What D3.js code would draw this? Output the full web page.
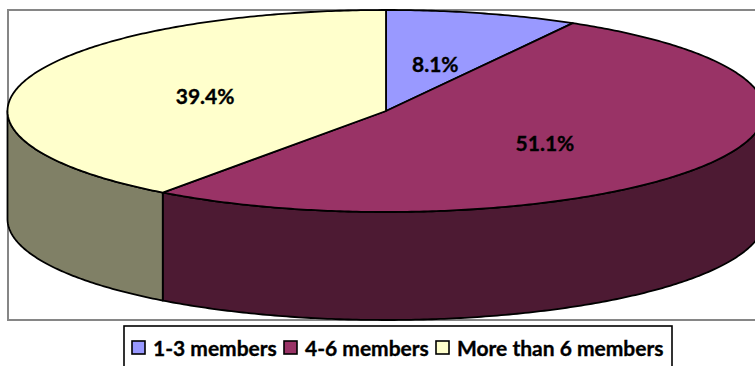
<!DOCTYPE html>
<html><head><meta charset="utf-8">
<script src="https://cdn.jsdelivr.net/npm/d3@7"></script>
<style>html,body{margin:0;padding:0;background:#fff;overflow:hidden}svg{display:block}</style>
</head><body><svg id="c" width="755" height="366"></svg>
<script>
const categories = ["1-3 members", "4-6 members", "More than 6 members"];
const values = [8.1, 51.1, 39.4];
const topColors = ["#9999FF", "#993366", "#FFFFCC"];
const sideColors = ["#4D4D80", "#4D1A33", "#808066"];

const W = 755, H = 366;
const cx = 386, cy = 111, rx = 378.5, ry = 101, depth = 108;
const svg = d3.select("#c");

const x = d3.scaleLinear().domain([-1, 1]).range([cx - rx, cx + rx]);
const y = d3.scaleLinear().domain([-1, 1]).range([cy - ry, cy + ry]);

const pie = d3.pie().sort(null).value(d => d);
const arcs = pie(values);

const px = a => x(Math.sin(a));
const py = a => y(-Math.cos(a));
const line = d3.line();
const samples = (a0, a1) => {
  const n = Math.max(2, Math.ceil(Math.abs(a1 - a0) * 90));
  return d3.range(n + 1).map(i => a0 + (a1 - a0) * i / n);
};

// plot frame
svg.append("rect").attr("x", 8).attr("y", 10).attr("width", 800).attr("height", 310)
  .attr("fill", "#fff").attr("stroke", "#868686").attr("stroke-width", 2);

// side walls: only the front half of the ellipse is visible
const frontStart = Math.PI / 2, frontEnd = 3 * Math.PI / 2;
arcs.forEach((d, i) => {
  const a0 = Math.max(d.startAngle, frontStart), a1 = Math.min(d.endAngle, frontEnd);
  if (a1 <= a0) return;
  const ang = samples(a0, a1);
  const upper = ang.map(a => [px(a), py(a)]);
  const lower = ang.slice().reverse().map(a => [px(a), py(a) + depth]);
  svg.append("path").attr("d", line(upper.concat(lower)) + "Z")
    .attr("fill", sideColors[i]).attr("stroke", "#000").attr("stroke-width", 1.8)
    .attr("stroke-linejoin", "round");
});

// top slices
arcs.forEach((d, i) => {
  const pts = samples(d.startAngle, d.endAngle).map(a => [px(a), py(a)]);
  svg.append("path").attr("d", line([[x(0), y(0)]].concat(pts)) + "Z")
    .attr("fill", topColors[i]).attr("stroke", "#000").attr("stroke-width", 1.8)
    .attr("stroke-linejoin", "round");
});

// value labels
const labelFont = "Lato, Carlito, sans-serif";
const labelNudge = [[1, 1], [0, 4], [-1, 0]];
arcs.forEach((d, i) => {
  const m = (d.startAngle + d.endAngle) / 2;
  svg.append("text").attr("x", x(0.5 * Math.sin(m)) + labelNudge[i][0]).attr("y", y(-0.5 * Math.cos(m)) + labelNudge[i][1])
    .attr("text-anchor", "middle").attr("dominant-baseline", "central")
    .attr("font-family", labelFont).attr("font-weight", 700).attr("font-size", 21)
    .attr("fill", "#000").attr("stroke", "#000").attr("stroke-width", 0.35).text(d.value.toFixed(1) + "%");
});

// legend
const legend = svg.append("g");
legend.append("rect").attr("x", 124).attr("y", 326).attr("width", 548).attr("height", 60)
  .attr("fill", "#fff").attr("stroke", "#000").attr("stroke-width", 1.6);
const itemX = d3.scaleOrdinal().domain(categories).range([132, 284, 436]);
categories.forEach((c, i) => {
  const g = legend.append("g").attr("transform", `translate(${itemX(c)},341)`);
  g.append("rect").attr("width", 13).attr("height", 13).attr("fill", topColors[i])
    .attr("stroke", "#000").attr("stroke-width", 1.6);
  g.append("text").attr("x", 21).attr("y", 6.5).attr("dominant-baseline", "central")
    .attr("font-family", labelFont).attr("font-weight", 700).attr("font-size", 21)
    .attr("fill", "#000").attr("stroke", "#000").attr("stroke-width", 0.35).text(c);
});
</script></body></html>
